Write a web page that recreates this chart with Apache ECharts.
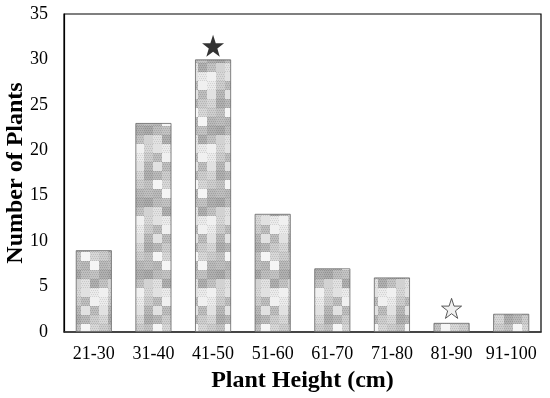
<!DOCTYPE html>
<html><head><meta charset="utf-8">
<script src="https://cdn.jsdelivr.net/npm/echarts@6/dist/echarts.min.js"></script>
<style>html,body{margin:0;padding:0;background:#fff}#c{width:550px;height:398px}</style>
</head><body><div id="c"></div>
<script>
const categories = ['21-30','31-40','41-50','51-60','61-70','71-80','81-90','91-100'];
const plantCounts = [9, 23, 30, 13, 7, 6, 1, 2];
const yTicks = [0, 5, 10, 15, 20, 25, 30, 35];
const filledStar = [[2, 31.5]];
const hollowStar = [[6, 2.6]];

// decorative checkered texture (style only)
function makePattern(){
  const cell = 9, cols = 4, rows = 8;
  const cv = document.createElement('canvas');
  cv.width = cell*cols; cv.height = cell*rows;
  const ctx = cv.getContext('2d');
  const levels = [215, 190, 235, 175, 245, 205, 170, 225, 195, 240, 185, 210];
  for (let r=0;r<rows;r++){
    for (let c=0;c<cols;c++){
      const g = levels[(r*5 + c*7 + (r*c)%3) % levels.length];
      ctx.fillStyle = 'rgb('+g+','+g+','+g+')';
      ctx.fillRect(c*cell, r*cell, cell, cell);
      const d = Math.max(0, g-80);
      ctx.fillStyle = 'rgb('+d+','+d+','+d+')';
      ctx.globalAlpha = 0.3;
      for (let y=0;y<cell;y+=2){
        for (let x=((y/2+r+c)%2);x<cell;x+=2){
          if ((r+c)%2===0 || g<210) ctx.fillRect(c*cell+x, r*cell+y, 1, 1);
        }
      }
      ctx.globalAlpha = 1;
    }
  }
  return cv;
}
const pat = makePattern();
const starPath = 'path://M50,0 L61.8,35.1 L98.1,35.1 L68.8,56.8 L79.4,90.9 L50,69.7 L20.6,90.9 L31.2,56.8 L1.9,35.1 L38.2,35.1 Z';
const serif = 'Liberation Serif';

const chart = echarts.init(document.getElementById('c'), null, {renderer:'canvas'});
chart.setOption({
  animation: false,
  grid: {left: 64, right: 9, top: 14, bottom: 66, outerBoundsMode: 'none', containLabel: false,
         show: true, borderColor: '#000', borderWidth: 1.2},
  xAxis: {
    type: 'category', data: categories,
    axisLine: {lineStyle: {color: '#333', width: 1.5}},
    axisTick: {show: false},
    axisLabel: {color: '#000', fontFamily: serif, fontSize: 18, margin: 13, interval: 0, hideOverlap: false},
    name: 'Plant Height (cm)', nameLocation: 'middle', nameGap: 37, nameMoveOverlap: false,
    nameTextStyle: {color: '#000', fontFamily: serif, fontSize: 24, fontWeight: 'bold'}
  },
  yAxis: {
    type: 'value', min: 0, max: 35, interval: 5,
    axisLine: {show: true, lineStyle: {color: '#000', width: 1.2}},
    axisTick: {show: false},
    splitLine: {show: false},
    axisLabel: {color: '#000', fontFamily: serif, fontSize: 18, margin: 16,
      formatter: v => yTicks.includes(v) ? String(v) : ''},
    name: 'Number of Plants', nameLocation: 'middle', nameGap: 36, nameMoveOverlap: false,
    nameTextStyle: {color: '#000', fontFamily: serif, fontSize: 24, fontWeight: 'bold'}
  },
  series: [
    {type: 'bar', data: plantCounts, barWidth: 36,
     itemStyle: {color: {image: pat, repeat: 'repeat'}, borderColor: '#666', borderWidth: 0.8}},
    {type: 'scatter', data: filledStar, symbol: starPath, symbolSize: 22,
     itemStyle: {color: '#000'}, z: 5},
    {type: 'scatter', data: hollowStar, symbol: starPath, symbolSize: 20,
     itemStyle: {color: '#eee', borderColor: '#333', borderWidth: 1}, z: 5}
  ]
});
</script></body></html>
